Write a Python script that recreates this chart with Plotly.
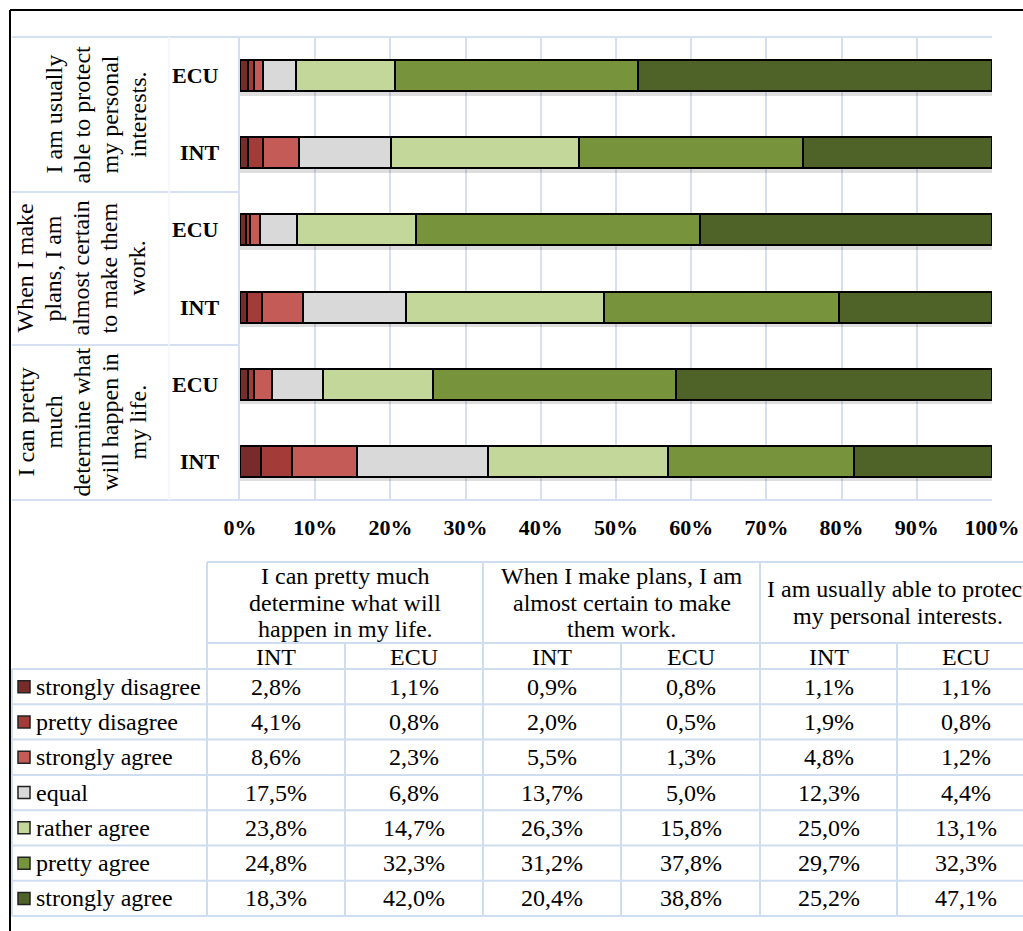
import plotly.graph_objects as go

# ---- data -------------------------------------------------------------
statements = [
    "I can pretty much determine what will happen in my life.",
    "When I make plans, I am almost certain to make them work.",
    "I am usually able to protect my personal interests.",
]
# wrapped forms used for the rotated axis labels and the table header
statement_axis_lines = [
    ["I can pretty", "much", "determine what", "will happen in", "my life."],
    ["When I make", "plans, I am", "almost certain", "to make them", "work."],
    ["I am usually", "able to protect", "my personal", "interests."],
]
statement_table_lines = [
    ["I can pretty much", "determine what will", "happen in my life."],
    ["When I make plans, I am", "almost certain to make", "them work."],
    ["I am usually able to protect", "my personal interests."],
]
groups = ["INT", "ECU"]

responses = ["strongly disagree", "pretty disagree", "strongly agree", "equal",
             "rather agree", "pretty agree", "strongly agree"]
colors = ["#772C2A", "#A33B38", "#C45B57", "#D9D9D9", "#C4D79B", "#77933C", "#4F6228"]

# order of values: s1 INT, s1 ECU, s2 INT, s2 ECU, s3 INT, s3 ECU
strongly_disagree = [2.8, 1.1, 0.9, 0.8, 1.1, 1.1]
pretty_disagree = [4.1, 0.8, 2.0, 0.5, 1.9, 0.8]
strongly_agree_red = [8.6, 2.3, 5.5, 1.3, 4.8, 1.2]
equal = [17.5, 6.8, 13.7, 5.0, 12.3, 4.4]
rather_agree = [23.8, 14.7, 26.3, 15.8, 25.0, 13.1]
pretty_agree = [24.8, 32.3, 31.2, 37.8, 29.7, 32.3]
strongly_agree = [18.3, 42.0, 20.4, 38.8, 25.2, 47.1]

series = [strongly_disagree, pretty_disagree, strongly_agree_red, equal,
          rather_agree, pretty_agree, strongly_agree]

x_tick_values = [0, 10, 20, 30, 40, 50, 60, 70, 80, 90, 100]
x_tick_labels = ["0%", "10%", "20%", "30%", "40%", "50%", "60%", "70%", "80%", "90%", "100%"]

# ---- layout helpers ---------------------------------------------------
W, H = 1023, 931
FONT = "Liberation Serif, Times New Roman, serif"
GRID = "#D5E1F2"
TABLE_LINE = "#CFDDF1"


def fx(p):
    return p / W


def fy(p):
    return 1 - p / H


cats = [f"{i}-{g}" for i in range(len(statements)) for g in groups]
totals = [sum(s[k] for s in series) for k in range(len(cats))]

fig = go.Figure()

# soft drop shadow under each bar
fig.add_trace(go.Bar(
    y=cats, x=totals, orientation="h", yaxis="y",
    marker=dict(color="rgba(0,0,0,0.13)", line=dict(width=0)),
    width=0.42, showlegend=False, hoverinfo="skip",
))

for name, vals, col in zip(responses, series, colors):
    fig.add_trace(go.Bar(
        y=cats, x=vals, orientation="h", yaxis="y2", name=name,
        marker=dict(color=col, line=dict(color="#000000", width=2)),
        showlegend=False,
    ))

shapes = []
annotations = []


def hline(y, x0, x1, color, width=2):
    shapes.append(dict(type="line", xref="paper", yref="paper",
                       x0=fx(x0), x1=fx(x1), y0=fy(y), y1=fy(y),
                       line=dict(color=color, width=width)))


def vline(x, y0, y1, color, width=2):
    shapes.append(dict(type="line", xref="paper", yref="paper",
                       x0=fx(x), x1=fx(x), y0=fy(y0), y1=fy(y1),
                       line=dict(color=color, width=width)))


def text(x, y, s, size=24, xanchor="center", bold=False, angle=0, yref="paper"):
    annotations.append(dict(
        x=fx(x), y=(fy(y) if yref == "paper" else y), xref="paper", yref=yref,
        text=s, showarrow=False, xanchor=xanchor, yanchor="middle",
        textangle=angle,
        font=dict(family=FONT, size=size, color="#000000",
                  weight="bold" if bold else "normal"),
    ))


# ---- chart frame and category area ------------------------------------
PLOT_TOP, PLOT_BOT = 37, 500
group_edges = [500, 345, 192, 37]
hline(PLOT_TOP, 12, 992, GRID)
hline(PLOT_BOT, 12, 992, GRID)
for e in group_edges[1:3]:
    hline(e, 12, 238, GRID)
vline(239, PLOT_TOP, PLOT_BOT, GRID)
vline(169, PLOT_TOP, PLOT_BOT, "#F0F4FA", 1.5)

# rotated statement labels
for gi, lines in enumerate(statement_axis_lines):
    yc = (group_edges[gi] + group_edges[gi + 1]) / 2
    n = len(lines)
    for li, ln in enumerate(lines):
        text(137 - (n - 1 - li) * 28, yc, ln, size=24, angle=-90)

# INT / ECU labels next to each bar
for c, g in zip(cats, groups * len(statements)):
    text(221, c, g, size=22, xanchor="right", bold=True, yref="y2")

# ---- data table -------------------------------------------------------
col_edges = [207, 345, 483, 621, 760, 897, 1035]
HEAD_TOP, HEAD_MID, HEAD_BOT = 562, 643, 669
ROW_H = 35.3
n_rows = len(responses)
TABLE_BOT = HEAD_BOT + ROW_H * n_rows

hline(HEAD_TOP, 207, 1023, TABLE_LINE)
hline(HEAD_MID, 207, 1023, TABLE_LINE)
for r in range(n_rows + 1):
    hline(HEAD_BOT + r * ROW_H, 12, 1023, TABLE_LINE)
vline(207, HEAD_TOP, TABLE_BOT, TABLE_LINE)
vline(12, HEAD_BOT, TABLE_BOT, TABLE_LINE)
for k, xe in enumerate(col_edges[1:-1], start=1):
    vline(xe, HEAD_TOP if k % 2 == 0 else HEAD_MID, TABLE_BOT, TABLE_LINE)

# statement headers spanning INT + ECU
for si, lines in enumerate(statement_table_lines):
    xc = (col_edges[2 * si] + col_edges[2 * si + 2]) / 2
    y0 = (HEAD_TOP + HEAD_MID) / 2 - (len(lines) - 1) * 26.5 / 2
    for li, ln in enumerate(lines):
        text(xc, y0 + li * 26.5, ln)

# INT / ECU sub headers
col_centers = [(a + b) / 2 for a, b in zip(col_edges[:-1], col_edges[1:])]
for k, xc in enumerate(col_centers):
    text(xc, (HEAD_MID + HEAD_BOT) / 2 + 1, groups[k % 2])

# legend keys, labels and values
for r, (name, vals, col) in enumerate(zip(responses, series, colors)):
    yc = HEAD_BOT + ROW_H * (r + 0.5)
    shapes.append(dict(type="rect", xref="paper", yref="paper",
                       x0=fx(18), x1=fx(30), y0=fy(yc + 6), y1=fy(yc - 6),
                       fillcolor=col, line=dict(color="#222222", width=1.5)))
    text(34, yc, name, xanchor="left")
    for k, xc in enumerate(col_centers):
        text(xc, yc, f"{vals[k]:.1f}%".replace(".", ","))

# outer frame
vline(10, 10, 931, "#000000", 2)
hline(10, 10, 1023, "#000000", 2)

shift = 0.05
fig.update_layout(
    width=W, height=H, autosize=False,
    margin=dict(l=0, r=0, t=0, b=0, pad=0),
    paper_bgcolor="#FFFFFF", plot_bgcolor="#FFFFFF",
    barmode="stack", barnorm="percent", bargap=0.6,
    font=dict(family=FONT, color="#000000"),
    xaxis=dict(
        domain=[fx(240), fx(992)], range=[0, 100],
        tickmode="array", tickvals=x_tick_values, ticktext=x_tick_labels,
        tickfont=dict(family=FONT, size=22, weight="bold", color="#000000"),
        showgrid=True, gridcolor=GRID, gridwidth=2,
        zeroline=False, showline=False, ticks="", ticklabelstandoff=12,
        automargin=False, fixedrange=True,
    ),
    yaxis=dict(
        domain=[fy(PLOT_BOT), fy(PLOT_TOP)], type="category",
        categoryorder="array", categoryarray=cats,
        range=[-0.5 + shift, len(cats) - 0.5 + shift],
        visible=False, showgrid=False, fixedrange=True, automargin=False,
    ),
    yaxis2=dict(
        overlaying="y", type="category",
        categoryorder="array", categoryarray=cats,
        range=[-0.5, len(cats) - 0.5],
        visible=False, showgrid=False, fixedrange=True, automargin=False,
    ),
    shapes=shapes,
    annotations=annotations,
)

fig.write_html(
    "out.html",
    config={"responsive": False, "displayModeBar": False},
    post_script="document.body.style.margin='0';document.body.style.overflow='hidden';",
)
